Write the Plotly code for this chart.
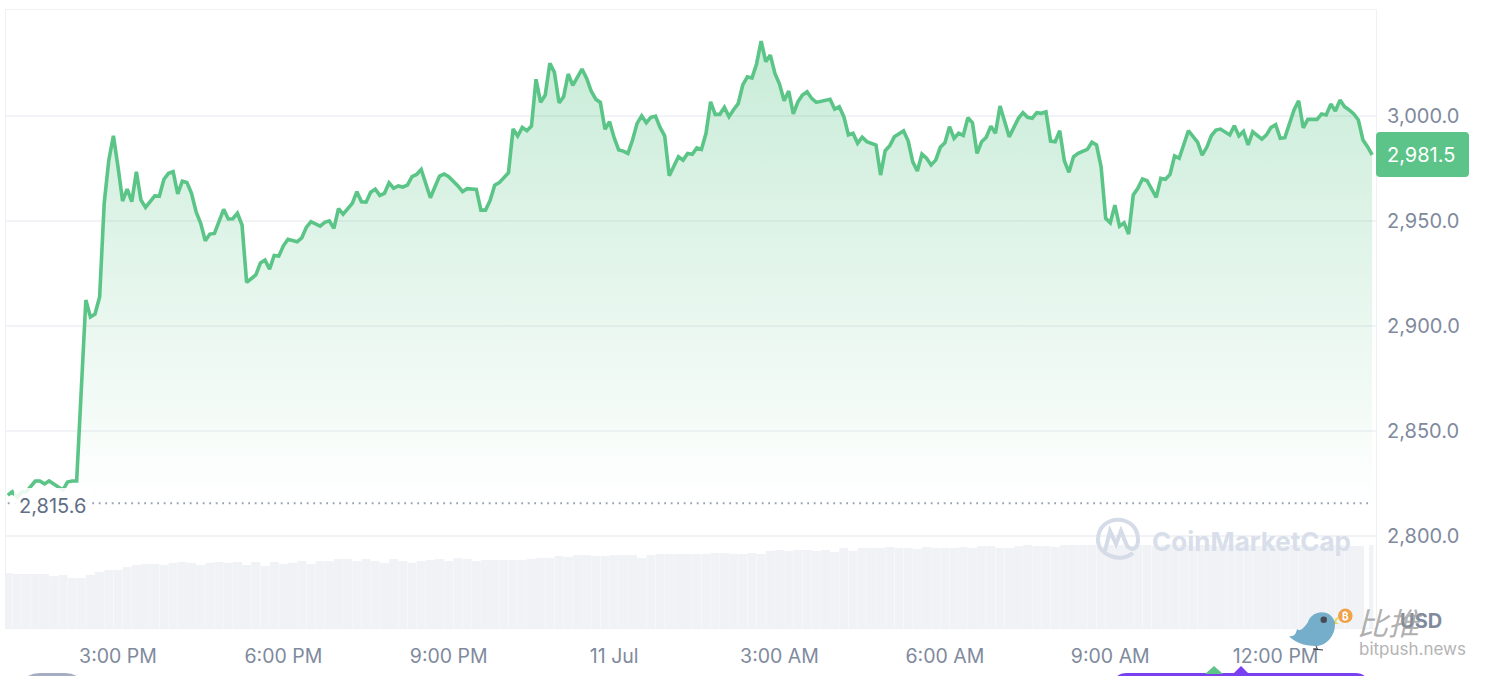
import plotly.graph_objects as go

# 5-minute slots counted from 3:00 PM on 10 Jul
price_slots = [-24,-23,-22,-21,-20,-18,-17,-16,-15,-14,-12,-11,-10,-9,-8,-7,-6,-5,-4,-3,-2,-1,
    0,1,2,3,4,5,6,7,8,9,10,11,12,13,14,15,16,17,18,19,20,21,23,24,25,26,27,28,30,31,32,33,34,35,36,37,39,40,41,42,44,45,46,47,48,49,
    50,51,52,53,54,55,56,57,58,59,60,61,62,63,64,65,66,68,69,70,71,72,74,75,76,78,79,80,81,82,83,85,86,87,88,89,90,91,92,93,94,95,96,97,98,99,101,
    102,103,104,105,106,107,108,109,110,111,112,113,114,115,116,117,118,119,120,122,123,124,125,126,127,128,129,130,131,132,133,134,135,136,137,138,139,140,
    141,142,143,144,145,146,147,148,149,150,151,152,153,155,156,157,158,159,160,161,162,163,165,166,167,168,169,171,172,173,174,175,176,177,178,179,180,
    181,182,183,184,185,186,187,188,189,190,191,192,194,196,197,198,199,200,201,202,203,204,205,206,207,208,209,211,212,213,214,215,216,217,218,219,220,
    221,222,223,224,226,227,228,229,230,231,233,235,236,237,238,239,240,242,243,244,245,246,247,248,249,250,251,252,253,254,255,256,257,258,259,261,262,263,264,265,266,267,268,269,270,271,272,273]
prices = [2819.5,2821.1,2818.6,2821,2821,2826.2,2826.2,2824.8,2826.2,2824.8,2821.9,2825.7,2826.2,2826.2,2869.5,2912.4,2904.3,2905.7,2913.8,2958.6,2979,2990.6,
    2975.9,2959.5,2965.2,2959.2,2973.5,2960,2956.5,2959.5,2962,2961.9,2969.9,2972.7,2973.5,2962.9,2969,2968.4,2963.2,2954.4,2948.9,2940.6,2943.8,2944.1,2955.6,2951,2951.1,2953.7,2948.1,2920.8,2924.3,2930,2931.4,2927.1,2933.6,2933.3,2938.2,2941.3,2940.1,2942,2947,2949.7,2947.6,2949.4,2950.1,2946.5,2955.9,2953.3,
    2955.7,2958.4,2964,2959.2,2959,2963.7,2965.2,2962.2,2963.2,2968.2,2965.6,2966.7,2966.2,2967.1,2971.1,2972.2,2974.6,2961.1,2966.3,2971.4,2972.4,2971.1,2966.7,2964,2965.4,2965.1,2955.2,2955.2,2959.8,2967.1,2968.3,2973,2993.8,2990.5,2994.6,2993,2995.2,3017.5,3006.5,3010,3025.1,3020.8,3006.3,3009.2,3020,3014.6,3022.4,
    3018,3011.9,3008,3006.5,2993.7,2997.3,2989.7,2983.8,2983.3,2982.2,2988.6,2996.5,3000.1,2996.8,2999.4,3000,2994.6,2990.6,2971.6,2980.6,2979,2982.2,2981.8,2984.8,2984.1,2991.8,3006.8,3000.8,3000.8,3004.1,2999.7,3003,3005.9,3014.8,3018.7,3018.1,3024.8,3035.7,
    3025.9,3029,3020.3,3015.2,3007.3,3011.9,3001,3006.8,3010,3011.6,3008.4,3006.5,3007.1,3008,3003.3,3004.4,2999.7,2991,2991.8,2987,2989.9,2987.8,2986.2,2971.9,2983.5,2985.9,2990.1,2992.9,2988.2,2978.2,2973.8,2981.9,2979.9,2976.7,2979,2985.1,2987.3,
    2994.9,2989.4,2991.8,2990.8,2999.2,2996.8,2982.2,2987.8,2989.9,2995.2,2991.8,3004.8,2990.1,2998.9,3001.6,2999.4,2998.9,3001.6,3001.3,3002,2988.1,2987.8,2993,2978.7,2973.2,2980.6,2982.2,2984.1,2987.5,2986.2,2975.9,2951.3,2949.2,2957.6,2947.6,2949.2,2943.8,
    2962.4,2965.6,2970,2969.2,2961.3,2970.3,2969.9,2972.2,2981,2979.9,2993,2987.6,2981.4,2985.1,2990.6,2993.3,2993.8,2991,2995.4,2990.5,2992.7,2986.2,2992.5,2990.5,2989,2991,2994.6,2995.9,2989.4,2989.7,2995.7,3002.9,3007.3,2994.4,2998.4,2998.4,3001,3000.5,3005.7,3002.4,3007.6,3004.4,3002.9,3001,2998.1,2988.6,2985.4,2981.5]

# volume, in billions (estimated; its axis is hidden in the reference), 10-minute blocks from 1:00 PM
volumes = [18.3,18,18,18,18,17.3,17.7,16.7,16.7,17.7,18.7,19.3,19.3,20.3,21,21.3,21.3,21,21.7,22,21.7,21,21.7,22,21.7,22,
    21,22,20.7,22,21.3,21.7,22.3,21.3,22.3,22.3,23,23,22.3,23,22.3,21.7,23,22.3,21.7,22.3,22.7,23,22.3,23.3,23,22.3,22.7,22.7,
    22.7,22.7,22.7,23,23.3,23.3,24,23.7,24.3,24.3,24,24,24.3,24.3,24.3,23.3,24.3,24.7,24.7,24.7,24.7,24.7,24.7,25,25,24.7,24.7,25,24.7,
    25.7,26,25.7,26,26,25.7,26,25.3,26.7,25.7,26.7,26.7,26.7,27,26.7,26.7,26.3,27,26.7,26.7,26.7,27,26.7,27.3,27.3,26.7,26.7,27.3,27.7,27.3,27.3,27,
    27.7,27.7,27.7,27.7,27.3,27.7,27.7,27.3,27.7,27.7,27.3,27.7,27.7,27.7,27.3,27.7,27.7,27.3,27.7,27.7,27.7,27.3,27.7,27.7,27.3,27.7,27.7,27.3,27.3,27.7,
    27.7,27.3,27.3]
last_volume = 27.7

tick_minutes = [0, 180, 360, 540, 720, 900, 1080, 1260]
tick_labels = ["3:00 PM", "6:00 PM", "9:00 PM", "11 Jul", "3:00 AM", "6:00 AM", "9:00 AM", "12:00 PM"]
price_ticks = [2800, 2850, 2900, 2950, 3000]
open_price = 2815.6
last_price = 2981.5

GREEN = "#5ac587"
GREY = "#808a9d"
FRAME = "#eff1f4"
W, H = 1486, 676
L, R, T, B = 6, 1376, 10, 628


def px(x):
    return (x - L) / (R - L)


def py(y):
    return (B - y) / (B - T)


def P(x, y):
    return f"{px(x):.5f},{py(y):.5f}"


def path(d, **kw):
    return dict(type="path", xref="paper", yref="paper", path=d, layer="above", **kw)


def note(x, y, text, size, color, **kw):
    fam = kw.pop("family", "Inter")
    return dict(xref="paper", yref="paper", x=px(x), y=py(y), text=text, showarrow=False,
                xanchor="center", yanchor="middle", font=dict(family=fam, size=size, color=color), **kw)


minutes = [5 * s for s in price_slots]
vol_x = [-120 + 10 * i for i in range(len(volumes))] + [1364]
vol_w = [9.8] * (len(volumes) - 1) + [12.5, 4.5]
vol_y = volumes + [last_volume]

fig = go.Figure()
fig.add_trace(go.Bar(x=vol_x, y=vol_y, width=vol_w, yaxis="y2", marker=dict(color="#f0f2f6", line_width=0)))
fig.add_trace(go.Scatter(
    x=minutes, y=prices, mode="lines", line=dict(color=GREEN, width=3.6), fill="tozeroy",
    fillgradient=dict(type="vertical", start=2815, stop=3036,
                      colorscale=[[0, "rgba(88,196,135,0)"], [1, "rgba(88,196,135,0.33)"]]),
))

shapes = [
    dict(type="line", xref="x", yref="y", x0=-120, x1=1364, y0=open_price, y1=open_price, layer="above",
         line=dict(color="#98a1b3", width=1.8, dash="1.8px,4.7px")),
    dict(type="rect", xref="paper", yref="paper", x0=px(14), x1=px(92), y0=py(520), y1=py(488), layer="above",
         fillcolor="rgba(255,255,255,0.88)", line_width=0),
    # price badge
    path(f"M{P(1380,132)} L{P(1465,132)} Q{P(1469,132)} {P(1469,136)} L{P(1469,173)} Q{P(1469,177)} {P(1465,177)} "
         f"L{P(1380,177)} Q{P(1376,177)} {P(1376,173)} L{P(1376,136)} Q{P(1376,132)} {P(1380,132)} Z",
         fillcolor="#5cc489", line_width=0),
    # CoinMarketCap logo
    path(f"M{P(1133,553)} C{P(1122,563)} {P(1098,556)} {P(1098,540)} C{P(1098,513)} {P(1138,513)} {P(1138,540)} "
         f"C{P(1138,548)} {P(1133,552)} {P(1127,546)} L{P(1121,531)} L{P(1116,544)} L{P(1110,531)} L{P(1105,551)}",
         line=dict(color="#d5dbe7", width=4)),
    # bitpush bird
    path(f"M{P(1289,636)} C{P(1294,637)} {P(1296,634)} {P(1297,629)} C{P(1300,632)} {P(1304,628)} {P(1308,622)} "
         f"C{P(1312,610)} {P(1330,608)} {P(1335,622)} C{P(1336,636)} {P(1326,646)} {P(1316,646)} C{P(1304,646)} {P(1294,642)} {P(1289,636)} Z",
         fillcolor="#74aecb", line_width=0),
    path(f"M{P(1335,619)} L{P(1339,616)} L{P(1336,622)} L{P(1339,624)} L{P(1335,624)} Z", fillcolor="#f2d548", line_width=0),
    dict(type="circle", xref="paper", yref="paper", x0=px(1320.5), x1=px(1327), y0=py(623), y1=py(616.5), layer="above",
         fillcolor="#4a4a55", line_width=0),
    dict(type="circle", xref="paper", yref="paper", x0=px(1338), x1=px(1352.6), y0=py(623), y1=py(608.6), layer="above",
         fillcolor="#eea24a", line_width=0),
    path(f"M{P(1316,646)} L{P(1318,650)} M{P(1313,649)} L{P(1323,650)}", line=dict(color="#333333", width=1)),
    # controls cut off by the bottom edge
    path(f"M{P(1115,680)} Q{P(1117,673)} {P(1127,673)} L{P(1355,673)} Q{P(1365,673)} {P(1367,680)} Z",
         fillcolor="#7b3ff2", line_width=0),
    path(f"M{P(1205,674)} L{P(1214,666)} L{P(1223,674)} Z", fillcolor="#5cc489", line_width=0),
    path(f"M{P(1233,674)} L{P(1241,666)} L{P(1249,674)} Z", fillcolor="#7b3ff2", line_width=0),
    path(f"M{P(22,680)} Q{P(30,673)} {P(40,673)} L{P(65,673)} Q{P(75,673)} {P(82,680)} Z",
         fillcolor="#a6adc0", line_width=0),
]

annotations = [
    note(52, 506, f"{open_price:,.1f}", 20, "#616e85"),
    note(1421, 155, f"{last_price:,.1f}", 20, "#ffffff"),
    note(1251, 541, "<b>CoinMarketCap</b>", 26, "#d8deea"),
    note(1345.3, 616, "<b>₿</b>", 10, "#ffffff"),
    note(1421, 621, "<b>USD</b>", 20, GREY),
    note(1390, 621, "<i>比推</i>", 31, "rgba(150,150,150,0.75)", family="Noto Sans CJK SC"),
    note(1412, 649, "bitpush.news", 17, "#b4b4b4"),
]

fig.update_layout(
    width=W, height=H, autosize=False,
    margin=dict(l=L, r=W - R, t=T, b=H - B, pad=0),
    paper_bgcolor="white", plot_bgcolor="white", showlegend=False, barmode="overlay",
    font=dict(family="Inter", size=18, color=GREY),
    xaxis=dict(range=[-121.9, 1369.2], tickvals=tick_minutes, ticktext=tick_labels, showgrid=False, zeroline=False,
               showline=True, linecolor=FRAME, linewidth=1, mirror=True, ticks="outside", ticklen=11,
               tickcolor="rgba(0,0,0,0)", tickfont=dict(size=19.5, color=GREY)),
    yaxis=dict(range=[2756.2, 3050.5], side="right", tickvals=price_ticks, tickformat=",.1f",
               gridcolor="#f2f3f6", gridwidth=1.5, zeroline=False, showline=True, linecolor=FRAME, linewidth=1, mirror=True,
               ticks="outside", ticklen=6, tickcolor="rgba(0,0,0,0)", tickfont=dict(size=20, color=GREY)),
    yaxis2=dict(overlaying="y", range=[0, 206], visible=False),
    shapes=shapes, annotations=annotations,
)

fig.write_html("out.html", config={"displayModeBar": False, "staticPlot": True},
               post_script="document.body.style.margin='0';document.body.style.overflow='hidden';")
